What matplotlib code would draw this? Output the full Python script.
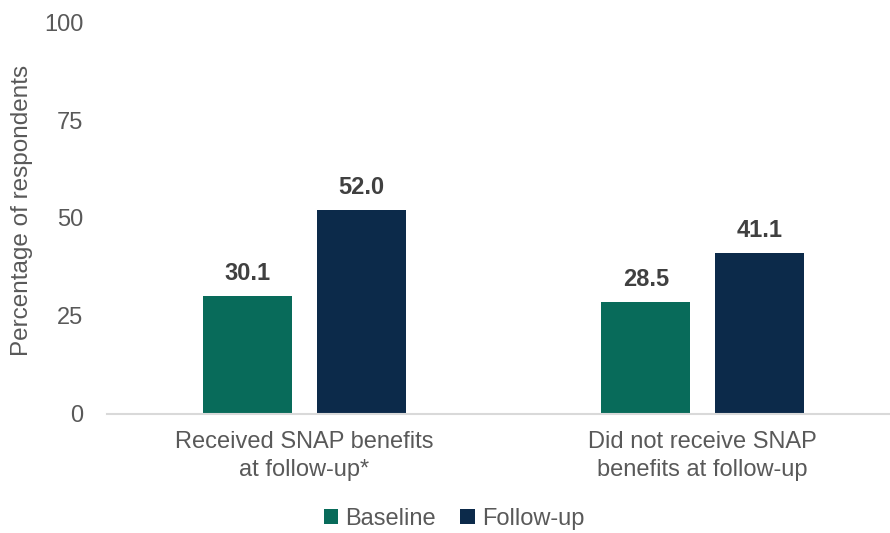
import matplotlib
matplotlib.use("Agg")
import matplotlib.pyplot as plt
import numpy as np

categories = ["Received SNAP benefits\nat follow-up*", "Did not receive SNAP\nbenefits at follow-up"]
series_names = ["Baseline", "Follow-up"]
baseline = [30.1, 28.5]
follow_up = [52.0, 41.1]
y_ticks = [0, 25, 50, 75, 100]

colors = ["#086B5A", "#0C2A4A"]
text_gray = "#595959"
label_gray = "#404040"
fs = 17

plt.rcParams["font.family"] = ["Liberation Sans", "DejaVu Sans"]

fig = plt.figure(figsize=(8.9, 5.33), dpi=100)
ax = fig.add_axes([0.1202, 0.2233, 0.8787, 0.7354])

x = np.arange(len(categories))
width = 0.2235
offset = 0.143

for vals, off, col, name in [(baseline, -offset, colors[0], series_names[0]),
                             (follow_up, offset, colors[1], series_names[1])]:
    bars = ax.bar(x + off, vals, width, color=col, label=name, zorder=2)
    for b, v in zip(bars, vals):
        ax.annotate(f"{v:.1f}", (b.get_x() + b.get_width() / 2, v),
                    xytext=(0, 8), textcoords="offset points",
                    ha="center", va="bottom", fontsize=fs,
                    fontweight="bold", color=label_gray)

ax.set_xlim(-0.496, 1.468)
ax.set_ylim(0, 100)
ax.set_yticks(y_ticks)
ax.set_xticks(x)
ax.set_xticklabels(categories, fontsize=fs, color=text_gray, linespacing=1.36)
ax.tick_params(axis="y", labelsize=fs, labelcolor=text_gray, length=0, pad=17)
ax.tick_params(axis="x", length=0, pad=12)

for s in ["top", "right", "left"]:
    ax.spines[s].set_visible(False)
ax.spines["bottom"].set_color("#D9D9D9")
ax.spines["bottom"].set_linewidth(1.5)

ax.set_ylabel("Percentage of respondents", fontsize=17.5, color=text_gray)
ax.yaxis.set_label_coords(-0.0946, 0.52)

fig.legend(loc="lower center", bbox_to_anchor=(0.51, -0.034), ncol=2, frameon=False,
           fontsize=fs, labelcolor=text_gray, handlelength=0.6, handleheight=0.6,
           handletextpad=0.3, columnspacing=1.05)

fig.savefig("out.png", dpi=100)
